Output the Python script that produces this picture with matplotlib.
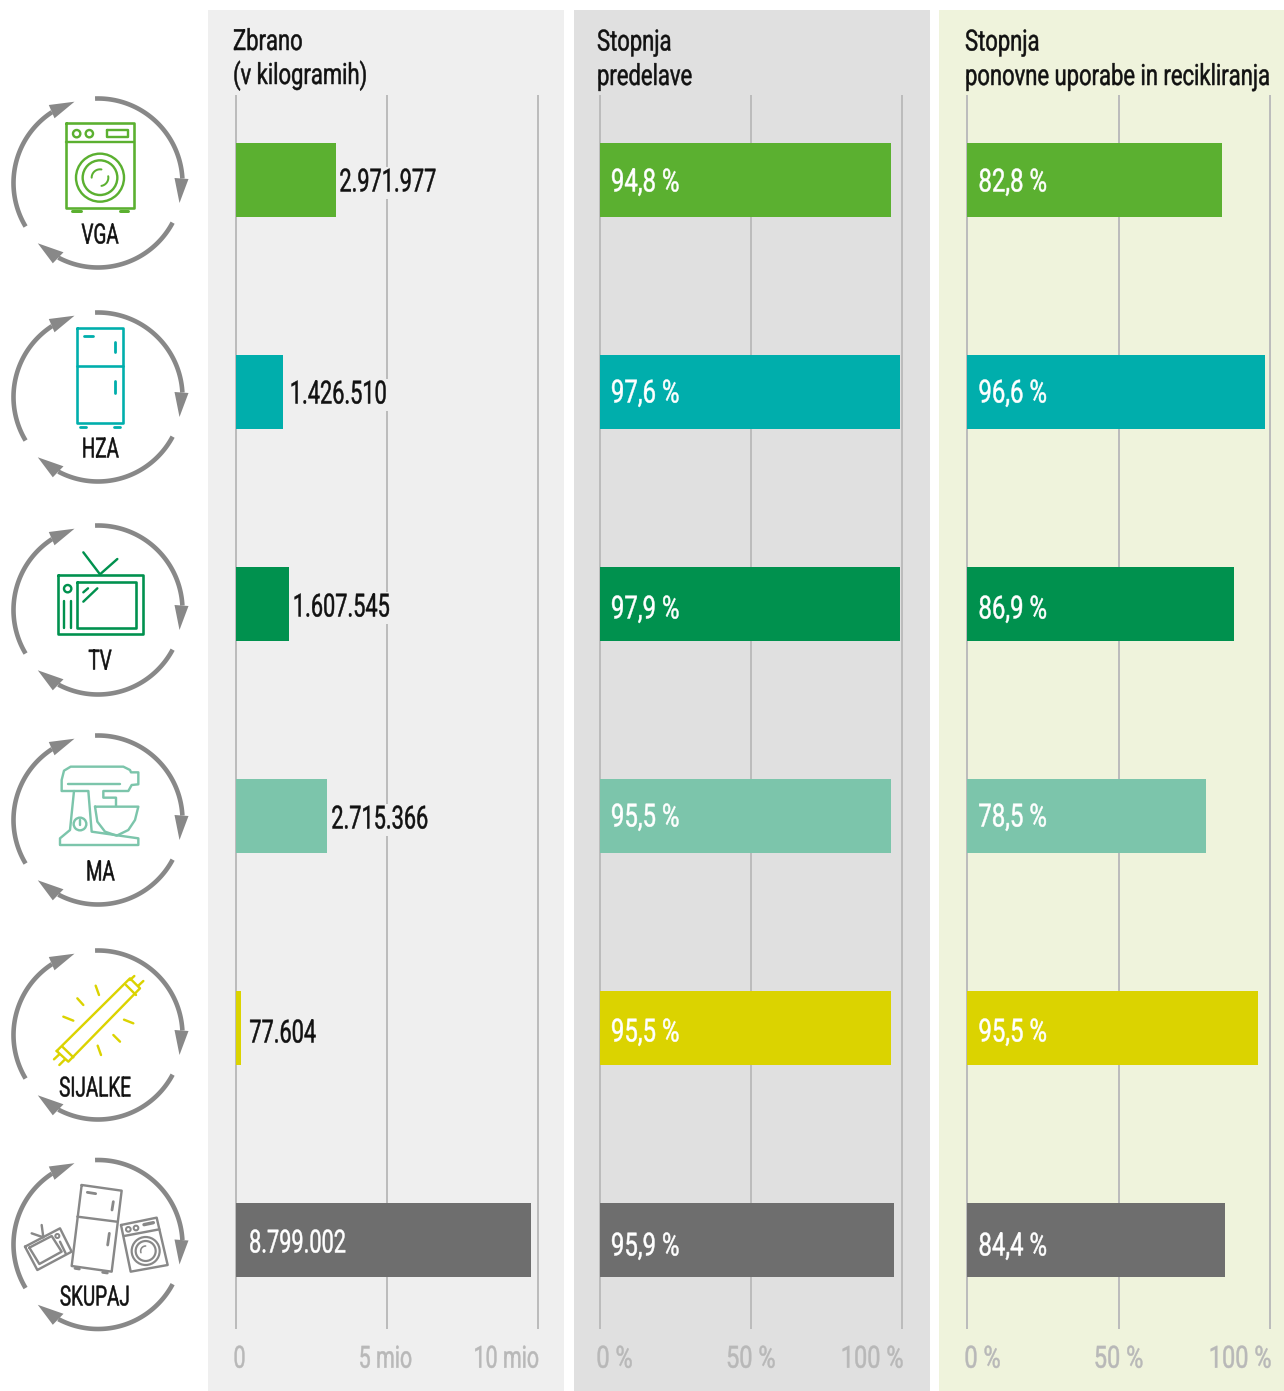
import numpy as np
import matplotlib
matplotlib.use("Agg")
import matplotlib.pyplot as plt
from matplotlib.patches import Circle, Polygon, Rectangle
from matplotlib.patheffects import AbstractPathEffect
from matplotlib.transforms import Affine2D, ScaledTranslation

W, H = 1284, 1391
plt.rcParams["font.family"] = ["Roboto", "DejaVu Sans"]

categories = ["VGA", "HZA", "TV", "MA", "SIJALKE", "SKUPAJ"]
colors = ["#5bb030", "#00aeac", "#00914e", "#7cc5ab", "#dbd300", "#6e6e6e"]

# bar lengths as read against each panel's gridlines
collected_bars = [3.32, 1.57, 1.77, 3.02, 0.18, 9.77]
collected_labels = ["2.971.977", "1.426.510", "1.607.545", "2.715.366", "77.604", "8.799.002"]
recovery_bars = [96.4, 99.3, 99.3, 96.4, 96.4, 97.4]
recovery_labels = ["94,8 %", "97,6 %", "97,9 %", "95,5 %", "95,5 %", "95,9 %"]
reuse_bars = [84.2, 98.3, 88.1, 78.9, 96.0, 85.1]
reuse_labels = ["82,8 %", "96,6 %", "86,9 %", "78,5 %", "95,5 %", "84,4 %"]

collected_ticks = [0, 5, 10]
collected_ticklabels = ["0", "5 mio", "10 mio"]
rate_ticks = [0, 50, 100]
rate_ticklabels = ["0 %", "50 %", "100 %"]


class Condense(AbstractPathEffect):
    # the installed fonts are too wide, squeeze the glyphs around the anchor
    def __init__(self, sx=0.68, ha="left", sy=1, stroke=0.35):
        super().__init__()
        self.sx = sx
        self.sy = sy
        self.ha = ha
        self.stroke = stroke

    def draw_path(self, renderer, gc, tpath, affine, rgbFace=None):
        ext = tpath.get_extents()
        anchor = {"left": ext.x0, "center": (ext.x0 + ext.x1) / 2, "right": ext.x1}[self.ha]
        squeeze = Affine2D().translate(-anchor, 0).scale(self.sx, self.sy).translate(anchor, 0)
        gc0 = renderer.new_gc()
        gc0.copy_properties(gc)
        gc0.set_linewidth(self.stroke)
        renderer.draw_path(gc0, tpath, squeeze + affine, rgbFace)
        gc0.restore()


def px(v):
    return v * 0.72


fig = plt.figure(figsize=(W / 100, H / 100), dpi=100, facecolor="white")

bg = fig.add_axes([0, 0, 1, 1], zorder=0)
bg.set_xlim(0, W)
bg.set_ylim(H, 0)
bg.axis("off")

bg.add_patch(Rectangle((208, 10), 356, H - 10, fc="#efefef", ec="none"))
bg.add_patch(Rectangle((574, 10), 356, H - 10, fc="#e0e0e0", ec="none"))
bg.add_patch(Rectangle((939, 10), 345, H - 10, fc="#eff3dc", ec="none"))

titles = [(233, 50, 84, "Zbrano\n(v kilogramih)"),
          (597, 50.5, 85, "Stopnja\npredelave"),
          (965, 50.5, 85, "Stopnja\nponovne uporabe in recikliranja")]
for x, y1, y2, s in titles:
    l1, l2 = s.split("\n")
    for y, text_line in ((y1, l1), (y2, l2)):
        # set small and stretched up, so the long line's box stays inside the figure
        t = bg.text(x, y, text_line, fontsize=16, color="#111111", ha="left", va="baseline")
        t.set_path_effects([Condense(0.99, sy=21 / 16)])


def panel(x0, x1, xmax, bars, ticks, ticklabels, offsets, sx):
    y0, y1 = 96, 1328
    ax = fig.add_axes([x0 / W, 1 - y1 / H, (x1 - x0) / W, (y1 - y0) / H], zorder=2)
    ax.patch.set_alpha(0)
    ax.set_xlim(0, xmax)
    ax.set_ylim((y1 - 180) / 212, (y0 - 180) / 212)
    for s in ax.spines.values():
        s.set_visible(False)
    ax.set_yticks([])
    ax.set_xticks(ticks)
    ax.set_xticklabels(ticklabels)
    ax.tick_params(axis="x", length=0, pad=12, labelsize=22, labelcolor="#b8b8b8")
    ax.grid(axis="x", color="#bcbcbc", lw=px(2))
    ax.set_axisbelow(True)
    for gl in ax.get_xgridlines():
        gl.set_clip_on(False)
    ax.barh(range(len(bars)), bars, height=74 / 212, color=colors, zorder=2)
    for lab, ha, off in zip(ax.get_xticklabels(), ["left", "center", "right"], offsets):
        lab.set_ha(ha)
        lab.set_transform(lab.get_transform() + ScaledTranslation(px(off) / 72, 0, fig.dpi_scale_trans))
        lab.set_path_effects([Condense(sx, ha)])
    return ax


ax1 = panel(235.5, 538, 10, collected_bars, collected_ticks,
            collected_ticklabels, [-2.5, -1.5, 1.5], 0.70)
ax2 = panel(599.5, 902, 100, recovery_bars, rate_ticks,
            rate_ticklabels, [-3.5, 0, 2], 0.77)
ax3 = panel(967, 1270, 100, reuse_bars, rate_ticks,
            rate_ticklabels, [-3, 0, 2], 0.77)

# value labels, gaps and vertical shifts in pixels
gaps = [3, 6, 3, 4, 8]
shifts = [0, 0, 1, 1, 3, 1]
for i, (v, s) in enumerate(zip(collected_bars, collected_labels)):
    dy = -(1 + 2 + shifts[i])
    if i < 5:
        t = ax1.annotate(s, xy=(v, i), xytext=(px(gaps[i]), px(dy)), textcoords="offset points",
                         fontsize=23, color="#111111", va="center", zorder=3,
                         bbox=dict(fc="#efefef", ec="none", pad=1))
    else:
        t = ax1.annotate(s, xy=(0, i), xytext=(px(13), px(dy)), textcoords="offset points",
                         fontsize=23, color="white", va="center", zorder=3)
    t.set_path_effects([Condense(0.68)])

rate_shifts = [3, 2, 6, 2, 5, 7]
for ax, vals in ((ax2, recovery_labels), (ax3, reuse_labels)):
    for i, s in enumerate(vals):
        t = ax.annotate(s, xy=(0, i), xytext=(px(11), px(-rate_shifts[i])), textcoords="offset points",
                        fontsize=23, color="white", va="center", zorder=3)
        t.set_path_effects([Condense(0.75)])

# icons on the left
GRAY = "#888888"
cycle_cy = [183, 397, 610, 820, 1035, 1244.5]
label_pos = [(100, 236), (100, 450), (100, 662), (100, 873), (95, 1089), (95, 1298)]
arcs = [(92, 3), (-28, -118), (211, 123)]
heads = [[(81.5, 20), (76.5, -5), (90.5, -4)],
         [(-60.2, 60.3), (-34.5, 69.3), (-45.2, 80.3)],
         [(-23.5, -81.3), (-49.2, -78), (-43.5, -64.7)]]


def cycle(cy, cx=98, r=84.5):
    for (a0, a1), head in zip(arcs, heads):
        a = np.radians(np.linspace(a0, a1, 80))
        bg.plot(cx + r * np.cos(a), cy - r * np.sin(a), color=GRAY, lw=px(4.6), solid_capstyle="butt")
        bg.add_patch(Polygon([(cx + hx, cy + hy) for hx, hy in head], fc=GRAY, ec="none"))


def line(pts, y0, color, lw=2.4, closed=False):
    # pts are in crop pixels, three per image pixel
    xs = [p[0] / 3 for p in pts]
    ys = [y0 + p[1] / 3 for p in pts]
    if closed:
        xs.append(xs[0])
        ys.append(ys[0])
    bg.plot(xs, ys, color=color, lw=px(lw), solid_capstyle="round", solid_joinstyle="round")


def circ(x, y, r, y0, color, lw=2.4):
    bg.add_patch(Circle((x / 3, y0 + y / 3), r / 3, fc="none", ec=color, lw=px(lw)))


def arc(x, y, r, a0, a1, y0, color, lw=2.0):
    a = np.radians(np.linspace(a0, a1, 30))
    line(list(zip(x + r * np.cos(a), y - r * np.sin(a))), y0, color, lw)


def rect(x0, y0_, x1, y1, y0, color, lw=2.4):
    line([(x0, y0_), (x1, y0_), (x1, y1), (x0, y1)], y0, color, lw, closed=True)


def washer(c, y0=90):
    rect(197, 98, 403, 355, y0, c, 2.6)
    line([(197, 155), (403, 155)], y0, c)
    circ(230, 131, 11, y0, c)
    circ(268, 131, 11, y0, c)
    rect(320, 120, 383, 142, y0, c)
    circ(300, 263, 72, y0, c)
    circ(300, 263, 52, y0, c)
    arc(300, 263, 25, 80, 180, y0, c)
    arc(300, 263, 25, -80, 10, y0, c)
    line([(217, 363), (242, 363)], y0, c, 3)
    line([(360, 363), (385, 363)], y0, c, 3)


def fridge(c, y0=305):
    rect(230, 68, 370, 355, y0, c, 2.6)
    line([(230, 183), (370, 183)], y0, c, 2.6)
    line([(252, 93), (280, 93)], y0, c, 2.8)
    line([(346, 112), (346, 140)], y0, c, 2.8)
    line([(346, 228), (346, 265)], y0, c, 2.8)
    line([(241, 366), (257, 366)], y0, c, 2.8)
    line([(343, 366), (359, 366)], y0, c, 2.8)


def tv(c, y0=305):
    rect(173, 810, 428, 988, y0, c, 2.6)
    rect(232, 830, 408, 968, y0, c, 2.6)
    line([(250, 742), (300, 808), (352, 762)], y0, c)
    circ(203, 851, 11, y0, c)
    line([(193, 887), (193, 970)], y0, c)
    line([(212, 887), (212, 970)], y0, c)
    line([(250, 862), (264, 850)], y0, c)
    line([(250, 890), (292, 850)], y0, c)


def mixer(c, y0=730):
    line([(185, 183), (185, 150), (192, 122), (212, 110), (370, 110), (390, 120), (393, 127),
          (415, 127), (415, 163), (395, 165), (385, 183), (310, 183), (310, 203), (348, 203),
          (348, 228)], y0, c)
    line([(185, 183), (265, 183)], y0, c)
    line([(205, 162), (360, 162)], y0, c)
    line([(222, 183), (210, 300), (180, 325), (180, 345), (415, 345), (415, 325), (275, 305), (265, 183)], y0, c)
    line([(285, 230), (415, 230), (405, 270), (385, 300), (350, 317), (315, 305), (292, 275)], y0, c, closed=True)
    for x in (317, 335, 353):
        line([(x, 133), (x + 1, 133)], y0, c, 3.4)
    line([(245, 225), (246, 225)], y0, c, 3.4)
    circ(240, 282, 19, y0, c)
    line([(240, 270), (240, 284)], y0, c)


def lamp(c, y0=945):
    line([(170, 318), (390, 100), (420, 130), (205, 350)], y0, c, closed=True)
    line([(187, 305), (220, 337)], y0, c)
    line([(378, 120), (408, 150)], y0, c)
    line([(162, 343), (178, 328)], y0, c)
    line([(178, 360), (195, 343)], y0, c)
    line([(403, 93), (390, 105)], y0, c)
    line([(430, 108), (415, 122)], y0, c)
    for pts in [((190, 215), (220, 227)), ((232, 160), (250, 180)), ((287, 122), (297, 150)),
                ((372, 224), (400, 235)), ((340, 270), (360, 290)), ((293, 302), (303, 330))]:
        line(list(pts), y0, c)


def pile(c, y0=1150):
    line([(245, 105), (365, 122), (335, 365), (215, 348)], y0, c, closed=True)
    line([(232, 200), (350, 215)], y0, c)
    line([(262, 127), (287, 131)], y0, c, 2.8)
    line([(340, 155), (336, 180)], y0, c, 2.8)
    line([(328, 250), (323, 285)], y0, c, 2.8)
    line([(225, 355), (238, 357)], y0, c, 2.8)
    line([(308, 367), (322, 369)], y0, c, 2.8)
    line([(363, 225), (470, 203), (503, 345), (392, 365)], y0, c, closed=True)
    line([(372, 258), (478, 238)], y0, c)
    circ(385, 238, 7, y0, c, 2)
    circ(408, 234, 7, y0, c, 2)
    line([(432, 224), (460, 218)], y0, c, 3.4)
    circ(437, 303, 42, y0, c, 2.2)
    circ(437, 303, 30, y0, c, 2.2)
    arc(437, 303, 15, 90, 200, y0, c, 1.6)
    line([(75, 290), (180, 235), (215, 305), (112, 360)], y0, c, closed=True)
    line([(88, 293), (155, 258), (185, 305), (118, 342)], y0, c, closed=True)
    line([(125, 225), (130, 262), (95, 250)], y0, c)
    circ(172, 258, 6, y0, c, 2)
    line([(180, 275), (197, 310)], y0, c)


for cy in cycle_cy:
    cycle(cy)
washer(colors[0])
fridge(colors[1])
tv(colors[2])
mixer(colors[3])
lamp(colors[4])
pile(GRAY)

for name, (x, y) in zip(categories, label_pos):
    t = bg.text(x, y, name, fontsize=20, color="#111111", ha="center", va="center")
    t.set_path_effects([Condense(0.68, "center")])

fig.savefig("out.png", dpi=100)
